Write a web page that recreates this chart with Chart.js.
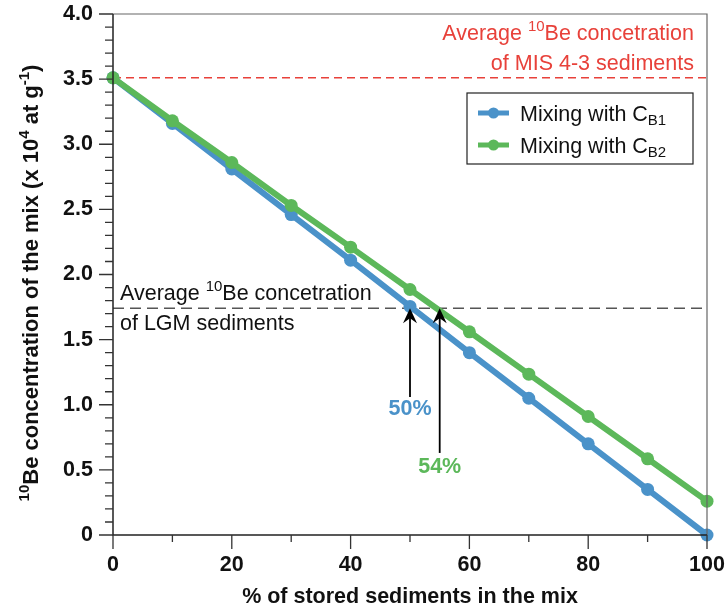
<!DOCTYPE html>
<html>
<head>
<meta charset="utf-8">
<script src="https://cdn.jsdelivr.net/npm/chart.js@4/dist/chart.umd.min.js"></script>
<style>
html,body{margin:0;padding:0;background:#fff;}
#wrap{width:727px;height:610px;position:relative;}
</style>
</head>
<body>
<div id="wrap"><canvas id="c" width="727" height="610"></canvas></div>
<script>
// ---- data ----
const percentStored = [0, 10, 20, 30, 40, 50, 60, 70, 80, 90, 100];
const mixingCB1 = [3.51, 3.16, 2.81, 2.46, 2.11, 1.755, 1.40, 1.05, 0.70, 0.35, 0.0];
const mixingCB2 = [3.51, 3.18, 2.86, 2.53, 2.21, 1.885, 1.56, 1.235, 0.91, 0.585, 0.26];
const seriesNames = ["Mixing with C", "Mixing with C"];
const seriesSubs = ["B1", "B2"];
const mis43Level = 3.51;
const lgmLevel = 1.74;
const arrowX = [50, 55];
const arrowBottom = [1.06, 0.63];
const arrowLabels = ["50%", "54%"];
const arrowLabelY = [0.92, 0.475];
const xMajorTicks = [0, 20, 40, 60, 80, 100];
const xMinorTicks = [10, 30, 50, 70, 90];
const yMajorTicks = [0, 0.5, 1.0, 1.5, 2.0, 2.5, 3.0, 3.5, 4.0];
const yMinorStep = 0.1;

const BLUE = '#4a92c9';
const GREEN = '#5cb85a';
const RED = '#e8413a';
const FONT = '"Liberation Sans", Arial, sans-serif';

function drawRich(ctx, parts, x, y, align) {
  let w = 0;
  parts.forEach(p => { ctx.font = (p.bold ? 'bold ' : '') + p.size + 'px ' + FONT; p.w = ctx.measureText(p.t).width; w += p.w; });
  let cx = align === 'right' ? x - w : align === 'center' ? x - w / 2 : x;
  ctx.textAlign = 'left';
  ctx.textBaseline = 'alphabetic';
  parts.forEach(p => {
    ctx.font = (p.bold ? 'bold ' : '') + p.size + 'px ' + FONT;
    ctx.fillText(p.t, cx, y + (p.dy || 0));
    cx += p.w;
  });
}

const decorPlugin = {
  id: 'decor',
  beforeDatasetsDraw(chart) {
    const ctx = chart.ctx, a = chart.chartArea;
    const ys = chart.scales.y;
    ctx.save();
    ctx.lineWidth = 1.5;
    ctx.strokeStyle = RED;
    ctx.setLineDash([8, 5]);
    let py = ys.getPixelForValue(mis43Level);
    ctx.beginPath(); ctx.moveTo(a.left, py); ctx.lineTo(a.right, py); ctx.stroke();
    ctx.strokeStyle = '#555';
    ctx.setLineDash([11, 6]);
    py = ys.getPixelForValue(lgmLevel);
    ctx.beginPath(); ctx.moveTo(a.left, py); ctx.lineTo(a.right, py); ctx.stroke();
    ctx.setLineDash([]);
    ctx.restore();
  },
  afterDraw(chart) {
    const ctx = chart.ctx, a = chart.chartArea;
    const xs = chart.scales.x, ys = chart.scales.y;
    ctx.save();
    // plot frame
    ctx.strokeStyle = '#666';
    ctx.lineWidth = 1.2;
    ctx.beginPath();
    ctx.moveTo(a.left, a.top); ctx.lineTo(a.right, a.top); ctx.lineTo(a.right, a.bottom);
    ctx.stroke();
    ctx.strokeStyle = '#222';
    ctx.lineWidth = 1.5;
    ctx.beginPath();
    ctx.moveTo(a.left, a.top); ctx.lineTo(a.left, a.bottom); ctx.lineTo(a.right, a.bottom);
    ctx.stroke();
    // ticks
    ctx.strokeStyle = '#333';
    ctx.lineWidth = 1.3;
    ctx.beginPath();
    xMajorTicks.forEach(v => { const p = xs.getPixelForValue(v); ctx.moveTo(p, a.bottom); ctx.lineTo(p, a.bottom + 14); });
    xMinorTicks.forEach(v => { const p = xs.getPixelForValue(v); ctx.moveTo(p, a.bottom); ctx.lineTo(p, a.bottom + 7); });
    yMajorTicks.forEach(v => { const p = ys.getPixelForValue(v); ctx.moveTo(a.left - 14, p); ctx.lineTo(a.left, p); });
    for (let i = 0; i <= 40; i++) {
      if (i % 5 === 0) continue;
      const p = ys.getPixelForValue(i * yMinorStep);
      ctx.moveTo(a.left - 8, p); ctx.lineTo(a.left, p);
    }
    ctx.stroke();

    // axis titles
    ctx.fillStyle = '#111';
    drawRich(ctx, [{ t: '% of stored sediments in the mix', size: 21.5, bold: true }], (a.left + a.right) / 2, 603, 'center');
    ctx.save();
    ctx.translate(38, 283);
    ctx.rotate(-Math.PI / 2);
    drawRich(ctx, [
      { t: '10', size: 15, bold: true, dy: -9 },
      { t: 'Be concentration of the mix (x 10', size: 22, bold: true },
      { t: '4', size: 15, bold: true, dy: -9 },
      { t: ' at g', size: 22, bold: true },
      { t: '-1', size: 15, bold: true, dy: -9 },
      { t: ')', size: 22, bold: true }
    ], 0, 0, 'center');
    ctx.restore();

    // red annotation
    ctx.fillStyle = RED;
    drawRich(ctx, [
      { t: 'Average ', size: 21.5 }, { t: '10', size: 15, dy: -9 }, { t: 'Be concetration', size: 21.5 }
    ], 694, 40, 'right');
    drawRich(ctx, [{ t: 'of MIS 4-3 sediments', size: 21.5 }], 694, 70, 'right');

    // LGM annotation
    ctx.fillStyle = '#111';
    drawRich(ctx, [
      { t: 'Average ', size: 21.5 }, { t: '10', size: 15, dy: -9 }, { t: 'Be concetration', size: 21.5 }
    ], 120, 300, 'left');
    drawRich(ctx, [{ t: 'of LGM sediments', size: 21.5 }], 120, 330, 'left');

    // arrows
    const colors = [BLUE, GREEN];
    const tipY = ys.getPixelForValue(lgmLevel);
    arrowX.forEach((v, i) => {
      const px = xs.getPixelForValue(v);
      const by = ys.getPixelForValue(arrowBottom[i]);
      ctx.strokeStyle = '#000';
      ctx.lineWidth = 1.8;
      ctx.beginPath();
      ctx.moveTo(px, by); ctx.lineTo(px, tipY + 8);
      ctx.stroke();
      ctx.fillStyle = '#000';
      ctx.beginPath();
      ctx.moveTo(px, tipY);
      ctx.lineTo(px + 7, tipY + 15);
      ctx.lineTo(px, tipY + 10);
      ctx.lineTo(px - 7, tipY + 15);
      ctx.closePath();
      ctx.fill();
      ctx.fillStyle = colors[i];
      drawRich(ctx, [{ t: arrowLabels[i], size: 21.5, bold: true }], px, ys.getPixelForValue(arrowLabelY[i]), 'center');
    });

    // legend
    const lx = 467, ly = 93, lw = 226, lh = 71;
    ctx.fillStyle = '#fff';
    ctx.fillRect(lx, ly, lw, lh);
    ctx.strokeStyle = '#222';
    ctx.lineWidth = 1.2;
    ctx.strokeRect(lx, ly, lw, lh);
    chart.data.datasets.forEach((ds, i) => {
      const cy = ly + 20 + i * 32;
      ctx.strokeStyle = ds.borderColor;
      ctx.lineWidth = 5;
      ctx.beginPath(); ctx.moveTo(478, cy); ctx.lineTo(509, cy); ctx.stroke();
      ctx.fillStyle = ds.borderColor;
      ctx.beginPath(); ctx.arc(493.5, cy, 5.5, 0, Math.PI * 2); ctx.fill();
      ctx.fillStyle = '#111';
      drawRich(ctx, [{ t: seriesNames[i], size: 21.5 }, { t: seriesSubs[i], size: 15, dy: 4 }], 520, cy + 8, 'left');
    });
    ctx.restore();
  }
};

new Chart(document.getElementById('c'), {
  type: 'line',
  data: {
    labels: percentStored,
    datasets: [
      { label: seriesNames[0] + seriesSubs[0], data: mixingCB1, order: 1, borderColor: BLUE, backgroundColor: BLUE, borderWidth: 6, pointRadius: 6.5, pointHoverRadius: 6.5, pointBackgroundColor: BLUE, pointBorderWidth: 0, clip: false },
      { label: seriesNames[1] + seriesSubs[1], data: mixingCB2, order: 0, borderColor: GREEN, backgroundColor: GREEN, borderWidth: 6, pointRadius: 6.5, pointHoverRadius: 6.5, pointBackgroundColor: GREEN, pointBorderWidth: 0, clip: false }
    ]
  },
  options: {
    responsive: false,
    animation: false,
    events: [],
    layout: { padding: { top: 14, right: 20, left: 0, bottom: 0 } },
    plugins: { legend: { display: false }, tooltip: { enabled: false } },
    elements: { line: { tension: 0 } },
    scales: {
      x: {
        type: 'linear', min: 0, max: 100,
        afterFit(s) { s.height = 75; s.paddingLeft = 0; s.paddingRight = 0; },
        afterBuildTicks(s) { s.ticks = xMajorTicks.map(v => ({ value: v })); },
        grid: { display: false, drawTicks: false },
        border: { display: false },
        ticks: { color: '#111', font: { family: FONT, size: 21.5, weight: 'bold' }, padding: 17, maxRotation: 0, callback: v => String(v) }
      },
      y: {
        type: 'linear', min: 0, max: 4,
        afterFit(s) { s.width = 113; s.paddingTop = 0; s.paddingBottom = 0; },
        afterBuildTicks(s) { s.ticks = yMajorTicks.map(v => ({ value: v })); },
        grid: { display: false, drawTicks: false },
        border: { display: false },
        ticks: { color: '#111', font: { family: FONT, size: 21.5, weight: 'bold' }, padding: 20, callback: v => v === 0 ? '0' : v.toFixed(1) }
      }
    }
  },
  plugins: [decorPlugin]
});
</script>
</body>
</html>
